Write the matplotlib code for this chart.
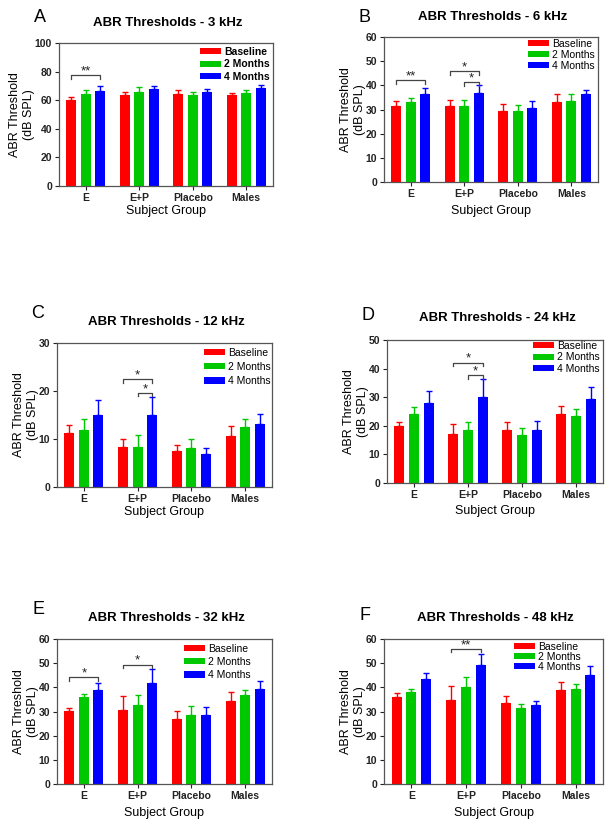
import numpy as np
import matplotlib
matplotlib.use("Agg")
from matplotlib import pyplot as plt

plt.rcParams['font.family'] = ['Liberation Sans', 'DejaVu Sans']

groups = ['E', 'E+P', 'Placebo', 'Males']
series = ['Baseline', '2 Months', '4 Months']
colors = ['#ff0000', '#00c800', '#0000ff']

# mean thresholds (rows: baseline, 2 months, 4 months) and SEM (upper only)
a_mean = [[60.4, 63.4, 64.3, 63.4], [64.1, 65.7, 63.4, 65.3], [66.7, 67.6, 65.5, 68.5]]
a_err = [[1.8, 2.3, 2.6, 1.4], [2.8, 3.3, 2.1, 2.1], [3.0, 2.1, 2.1, 1.9]]
b_mean = [[31.3, 31.6, 29.4, 33.1], [33.1, 31.6, 29.4, 33.7], [36.4, 36.7, 30.5, 36.4]]
b_err = [[2.1, 2.3, 2.7, 3.2], [1.5, 2.3, 2.3, 2.6], [2.6, 3.3, 2.9, 1.8]]
c_mean = [[11.2, 8.3, 7.5, 10.55], [11.9, 8.3, 8.05, 12.4], [14.9, 14.9, 6.9, 13.1]]
c_err = [[1.8, 1.6, 1.25, 2.25], [2.2, 2.5, 1.85, 1.7], [3.2, 3.85, 1.15, 2.2]]
d_mean = [[19.9, 17.3, 18.6, 24.3], [24.3, 18.4, 16.9, 23.6], [28.1, 29.9, 18.6, 29.2]]
d_err = [[1.4, 3.2, 2.6, 2.75], [2.1, 3.1, 2.4, 2.1], [4.2, 6.6, 3.2, 4.3]]
e_mean = [[30.1, 30.8, 27.0, 34.4], [35.9, 32.6, 28.7, 37.0], [38.8, 41.7, 28.7, 39.5]]
e_err = [[1.5, 5.6, 3.1, 3.8], [1.4, 4.4, 3.5, 2.0], [3.2, 6.0, 3.3, 3.1]]
f_mean = [[35.9, 34.9, 33.7, 38.8], [38.2, 40.0, 31.5, 39.3], [43.3, 49.1, 32.6, 45.0]]
f_err = [[1.6, 5.7, 2.7, 3.6], [1.1, 4.4, 1.8, 2.1], [2.8, 4.7, 1.9, 4.0]]

# significance brackets: (group, from series, to series, height, label)
a_sig = [(0, 0, 2, 77.6, '**')]
b_sig = [(0, 0, 2, 42.2, '**'), (1, 0, 2, 45.8, '*'), (1, 1, 2, 41.4, '*')]
c_sig = [(1, 0, 2, 22.5, '*'), (1, 1, 2, 19.65, '*')]
d_sig = [(1, 0, 2, 42.1, '*'), (1, 1, 2, 37.7, '*')]
e_sig = [(0, 0, 2, 44.2, '*'), (1, 0, 2, 49.4, '*')]
f_sig = [(1, 0, 2, 56.0, '**')]

W, H = 609, 823
fig = plt.figure(figsize=(W / 100, H / 100), dpi=100)

# panel boxes in pixels: left, right, top, bottom
panels = [
    ('A', '3 kHz', a_mean, a_err, a_sig, 100, 20, (59, 273, 43, 186), True),
    ('B', '6 kHz', b_mean, b_err, b_sig, 60, 10, (384, 598, 37, 182), False),
    ('C', '12 kHz', c_mean, c_err, c_sig, 30, 10, (57, 272, 343, 487), False),
    ('D', '24 kHz', d_mean, d_err, d_sig, 50, 10, (387, 603, 340, 483), False),
    ('E', '32 kHz', e_mean, e_err, e_sig, 60, 10, (57, 272, 639, 784), False),
    ('F', '48 kHz', f_mean, f_err, f_sig, 60, 10, (384, 603, 639, 784), False),
]
title_y = {'A': 23, 'B': 17, 'C': 322, 'D': 318, 'E': 618, 'F': 618}
letter_y = {'A': 18, 'B': 17, 'C': 313, 'D': 315, 'E': 610, 'F': 615}
xlab_y = {'A': 211, 'B': 211, 'C': 512, 'D': 511, 'E': 813, 'F': 813}
# legend: handle left x, first row centre y, row spacing (px)
leg_pos = {'A': (200, 52, 0.25), 'B': (528, 44, 0.1), 'C': (204, 353, 0.4),
           'D': (533, 346, 0.15), 'E': (184, 649, 0.3), 'F': (514, 647, 0.0)}

x = np.arange(len(groups))
bw = 0.186
off = 0.27

for letter, freq, mean, err, sig, ymax, ystep, box, bold_leg in panels:
    l, r, t, b = box
    ax = fig.add_axes([l / W, 1 - b / H, (r - l) / W, (b - t) / H])
    for i in range(3):
        ax.bar(x + (i - 1) * off, mean[i], bw, color=colors[i], label=series[i],
               yerr=[np.zeros(4), err[i]], ecolor=colors[i],
               error_kw=dict(elinewidth=1.0, capsize=2.3, capthick=1.0), zorder=2)
    ax.set_xlim(-0.5, 3.5)
    ax.set_ylim(0, ymax)
    ax.set_yticks(np.arange(0, ymax + 1, ystep))
    ax.set_xticks(x)
    ax.set_xticklabels(groups, fontweight='bold', fontsize=7.5)
    for lab in ax.get_yticklabels():
        lab.set_fontweight('bold')
        lab.set_fontsize(7.5)
    ax.tick_params(direction='out', length=3, width=0.8, pad=2, colors='#222222')
    for s in ax.spines.values():
        s.set_color('#555555')
        s.set_linewidth(0.9)
    ax.set_ylabel('ABR Threshold\n(dB SPL)', fontsize=9, labelpad=0)
    cx = (l + r) / 2
    fig.text(cx / W, 1 - xlab_y[letter] / H, 'Subject Group', ha='center', va='center', fontsize=9)
    fig.text((cx + 2) / W, 1 - title_y[letter] / H, 'ABR Thresholds - ' + freq,
             ha='center', va='center', fontsize=9.5, fontweight='bold')
    fig.text((l - 19) / W, 1 - letter_y[letter] / H, letter, ha='center', va='center', fontsize=13)

    tick = ymax * 0.025
    for g, s0, s1, yb, lab in sig:
        x0 = g + (s0 - 1) * off
        x1 = g + (s1 - 1) * off
        ax.plot([x0, x0, x1, x1], [yb - tick, yb, yb, yb - tick], color='#444444', lw=0.9, zorder=3)
        ax.annotate(lab, ((x0 + x1) / 2, yb), xytext=(0, 0.5), textcoords='offset points',
                    ha='center', va='baseline', fontsize=9.5, color='#222222')

    lx, ly, sp = leg_pos[letter]
    ax.legend(loc='upper left', bbox_to_anchor=(lx / W, 1 - (ly - 5.2) / H),
              bbox_transform=fig.transFigure, frameon=False, handlelength=2.0,
              handleheight=0.55, handletextpad=0.3, labelspacing=sp,
              borderaxespad=0, borderpad=0,
              prop={'weight': 'bold' if bold_leg else 'normal', 'size': 7.5})

fig.savefig('out.png', dpi=100)
